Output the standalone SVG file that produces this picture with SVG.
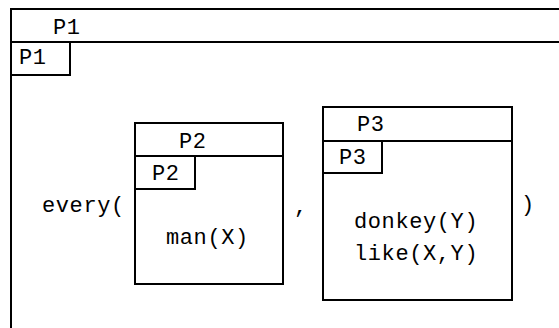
<svg xmlns="http://www.w3.org/2000/svg" width="559" height="328" viewBox="0 0 559 328">
<style>
.b{fill:none;stroke:#000;stroke-width:2}
text{font-family:"Liberation Mono","DejaVu Sans Mono",monospace;font-size:22px;letter-spacing:0.6px;fill:#000}
</style>
<rect width="559" height="328" fill="#fff"/>
<g id="P1">
<path class="b" d="M11,340 V9 H570"/>
<path class="b" d="M11,42 H570"/>
<path class="b" d="M11,75 H70 V42"/>
<text x="53" y="34">P1</text>
<text x="19" y="64">P1</text>
</g>
<g id="P2">
<rect class="b" x="135" y="123" width="148" height="161"/>
<path class="b" d="M135,156 H283"/>
<path class="b" d="M135,189 H195 V156"/>
<text x="179" y="148">P2</text>
<text x="152" y="180">P2</text>
<text x="166" y="244">man(X)</text>
</g>
<g id="P3">
<rect class="b" x="323" y="107" width="189" height="193"/>
<path class="b" d="M323,141 H512"/>
<path class="b" d="M323,173 H382 V141"/>
<text x="357" y="131">P3</text>
<text x="339" y="164">P3</text>
<text x="354" y="228">donkey(Y)</text>
<text x="354" y="260">like(X,Y)</text>
</g>
<g id="connectors">
<text x="42" y="212">every(</text>
<text x="294" y="213">,</text>
<text x="521" y="211">)</text>
</g>
</svg>
